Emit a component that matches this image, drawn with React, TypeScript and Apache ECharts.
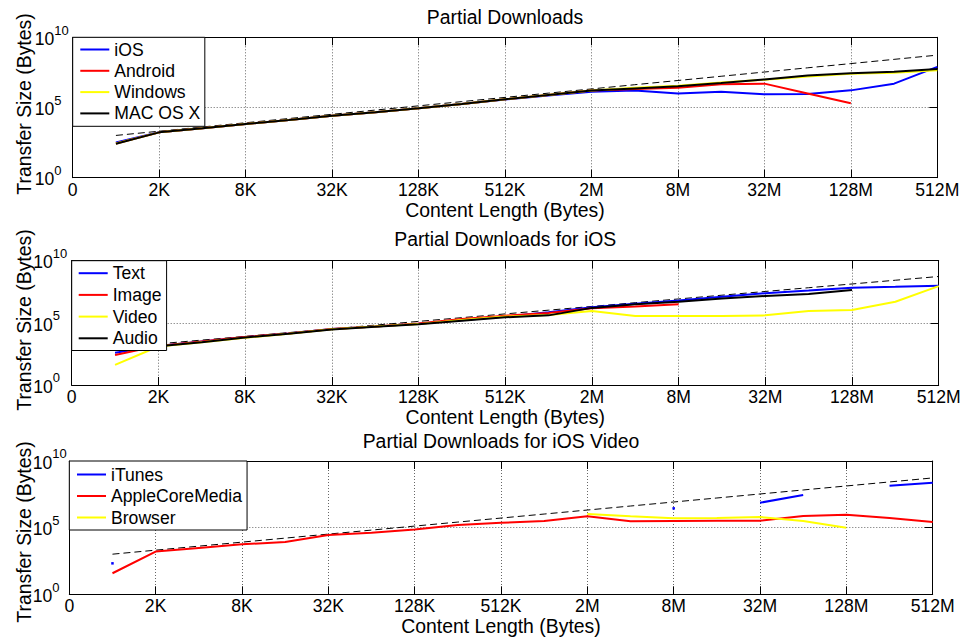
import React, { useEffect, useRef } from "react";
import * as echarts from "echarts";

// ---------- data ----------
const xTickLabels = ["0", "2K", "8K", "32K", "128K", "512K", "2M", "8M", "32M", "128M", "512M"];
// position of each content length on the x axis (tick "0" = position 0, 1K = 1, 2K = 2, ...)
const sizeIndex = [1, 2, 3, 4, 5, 6, 7, 8, 9, 10, 11, 12, 13, 14, 15, 16, 17, 18, 19, 20];
// content length in bytes (1K ... 512M), used for the dashed y = x reference line
const contentBytes = [
  1024, 2048, 4096, 8192, 16384, 32768, 65536, 131072, 262144, 524288, 1048576, 2097152,
  4194304, 8388608, 16777216, 33554432, 67108864, 134217728, 268435456, 536870912,
];

// Plot 1: Partial Downloads (transfer size, bytes)
const osIOS = [3.2e2, 1.7e3, 3.3e3, 6.6e3, 1.3e4, 2.6e4, 4.6e4, 8.7e4, 1.8e5, 3.7e5, 7.1e5, 1.35e6, 1.6e6, 1.0e6, 1.35e6, 8.7e5, 9.1e5, 1.66e6, 5.0e6, 7.9e7];
const osAndroid = [2.7e2, 1.7e3, 3.3e3, 6.6e3, 1.3e4, 2.6e4, 4.6e4, 8.7e4, 1.8e5, 3.8e5, 7.8e5, 1.6e6, 2.1e6, 2.6e6, 4.5e6, 5.0e6, 1.0e6, 2.0e5, null, null];
const osWindows = [2.7e2, 1.7e3, 3.3e3, 6.6e3, 1.3e4, 2.6e4, 4.6e4, 8.7e4, 1.8e5, 3.8e5, 7.9e5, 1.65e6, 2.5e6, 3.5e6, 6.0e6, 9.5e6, 1.6e7, 2.5e7, 3.0e7, 4.5e7];
const osMac = [2.6e2, 1.7e3, 3.3e3, 6.6e3, 1.3e4, 2.6e4, 4.6e4, 8.7e4, 1.8e5, 3.8e5, 7.8e5, 1.6e6, 2.3e6, 3.2e6, 5.6e6, 1.0e7, 1.9e7, 2.75e7, 3.5e7, 5.5e7];

// Plot 2: Partial Downloads for iOS
const iosText = [4.0e2, 1.4e3, 3.2e3, 6.9e3, 1.4e4, 3.2e4, 5.0e4, 8.3e4, 1.6e5, 3.3e5, 7.1e5, 1.8e6, 3.5e6, 6.3e6, 1.26e7, 2.4e7, 4.0e7, 6.8e7, 8.1e7, 9.8e7];
const iosImage = [2.6e2, 1.4e3, 3.2e3, 7.2e3, 1.4e4, 3.2e4, 5.2e4, 8.9e4, 2.0e5, 3.8e5, 6.3e5, 1.5e6, 2.1e6, 3.1e6, null, null, null, null, null, null];
const iosVideo = [4.1e1, 1.26e3, 2.8e3, 6.3e3, 1.3e4, 3.0e4, 5.0e4, 7.9e4, 1.66e5, 3.2e5, 4.3e5, 8.9e5, 3.5e5, 3.5e5, 3.5e5, 4.0e5, 8.9e5, 1.07e6, 5.0e6, 9.1e7];
const iosAudio = [null, 1.3e3, 2.8e3, 6.6e3, 1.3e4, 2.9e4, 4.8e4, 7.6e4, 1.5e5, 2.8e5, 4.0e5, 1.6e6, 3.2e6, 5.0e6, 8.9e6, 1.45e7, 2.1e7, 4.4e7, null, null];

// Plot 3: Partial Downloads for iOS Video
const vidITunes = [2.1e2, null, null, null, null, null, null, null, null, null, null, null, null, 2.8e6, null, 7.4e6, 2.8e7, null, 1.4e8, 2.3e8];
const vidCoreMedia = [3.8e1, 1.6e3, 3.0e3, 5.6e3, 8.3e3, 2.8e4, 4.2e4, 7.4e4, 1.6e5, 2.3e5, 3.2e5, 7.1e5, 3.0e5, 3.2e5, 3.3e5, 3.3e5, 7.4e5, 9.3e5, 5.2e5, 2.6e5];
const vidBrowser = [null, null, null, null, null, null, null, null, null, null, null, 1.05e6, 7.1e5, 5.0e5, 5.2e5, 6.3e5, 3.2e5, 1.0e5, null, null];

const titles = ["Partial Downloads", "Partial Downloads for iOS", "Partial Downloads for iOS Video"];
const xName = "Content Length (Bytes)";
const yName = "Transfer Size (Bytes)";

// ---------- layout ----------
const FONT = "'Liberation Sans', Arial, Helvetica, sans-serif";
const grids = [
  { left: 72.7, top: 37.3, width: 864.6, height: 140.4 },
  { left: 71.7, top: 260.7, width: 867, height: 124.3 },
  { left: 69.3, top: 461, width: 863.4, height: 133.3 },
];
const yLabelMargin = [38, 38.5, 36.5];
const titleY = [17, 239, 441];
const xNameY = [210, 416.5, 626];
const yNameY = [104, 320, 532];

const BLUE = "#0000ff";
const RED = "#ff0000";
const YELLOW = "#ffff00";
const BLACK = "#000000";

function xAxes(gi: number) {
  const common = {
    type: "value",
    gridIndex: gi,
    min: 0,
    max: 20,
    interval: 2,
    axisLine: { show: true, onZero: false, lineStyle: { color: "#000", width: 1 } },
    axisTick: { show: true, inside: true, length: 8, lineStyle: { color: "#000", width: 1 } },
  };
  return [
    {
      ...common,
      position: "bottom",
      axisLabel: {
        show: true,
        margin: 3,
        color: "#000",
        fontSize: 17.6,
        fontFamily: FONT,
        formatter: (v: number) => xTickLabels[Math.round(v / 2)] ?? "",
      },
      splitLine: { show: true, lineStyle: { color: "#666", width: 1, type: [1, 2] } },
    },
    {
      ...common,
      position: "top",
      axisLabel: { show: false },
      splitLine: { show: false },
    },
  ];
}

function yAxes(gi: number) {
  const common = {
    type: "log",
    logBase: 100000,
    gridIndex: gi,
    min: 1,
    max: 1e10,
    axisLine: { show: true, onZero: false, lineStyle: { color: "#000", width: 1 } },
    axisTick: { show: true, inside: true, length: 8, lineStyle: { color: "#000", width: 1 } },
    minorTick: { show: false },
  };
  return [
    {
      ...common,
      position: "left",
      axisLabel: {
        show: true,
        align: "left",
        margin: yLabelMargin[gi],
        padding: [0, 0, 3, 0],
        formatter: (v: number) => `{b|10}{s|${Math.round(Math.log10(v))}}`,
        rich: {
          b: { fontSize: 17.6, fontFamily: FONT, color: "#000", verticalAlign: "bottom" },
          s: { fontSize: 13, fontFamily: FONT, color: "#000", verticalAlign: "bottom", padding: [0, 0, 11.5, 0] },
        },
      },
      splitLine: { show: true, lineStyle: { color: "#666", width: 1, type: [1, 2] } },
    },
    {
      ...common,
      position: "right",
      axisLabel: { show: false },
      splitLine: { show: false },
    },
  ];
}

function lineSeries(name: string, values: (number | null)[], color: string, gi: number) {
  const data = sizeIndex.map((x, i) => {
    const v = values[i];
    if (v == null) return [x, "-"];
    const prev = i > 0 ? values[i - 1] : null;
    const next = i < values.length - 1 ? values[i + 1] : null;
    if (prev == null && next == null) {
      return { value: [x, v], symbol: "rect", symbolSize: 2.5, itemStyle: { color } };
    }
    return [x, v];
  });
  return {
    type: "line",
    name,
    xAxisIndex: gi * 2,
    yAxisIndex: gi * 2,
    data,
    symbol: "none",
    showSymbol: true,
    color,
    itemStyle: { color },
    lineStyle: { color, width: 2 },
    silent: true,
    z: 3,
  };
}

function refSeries(gi: number) {
  return {
    type: "line",
    name: `ref${gi}`,
    xAxisIndex: gi * 2,
    yAxisIndex: gi * 2,
    data: sizeIndex.map((x, i) => [x, contentBytes[i]]),
    symbol: "none",
    color: BLACK,
    lineStyle: { color: BLACK, width: 1, type: [7, 4] },
    silent: true,
    z: 2,
  };
}

function legend(gi: number, names: string[], padding: number[], itemGap: number) {
  return {
    orient: "vertical",
    left: grids[gi].left,
    top: grids[gi].top,
    data: names,
    itemWidth: 29,
    itemHeight: 17,
    itemGap,
    padding,
    borderColor: "#000",
    borderWidth: 1,
    borderRadius: 0,
    backgroundColor: "#fff",
    selectedMode: false,
    itemStyle: { opacity: 0, borderWidth: 0 },
    lineStyle: { width: 2 },
    textStyle: { fontSize: 17.6, fontFamily: FONT, color: "#000", lineHeight: 17 },
    z: 10,
  };
}

function textEl(text: string, x: number, y: number, rotation = 0) {
  return {
    type: "text",
    x,
    y,
    rotation,
    z: 20,
    style: {
      text,
      fontSize: 19.4,
      fontFamily: FONT,
      fill: "#000",
      textAlign: "center",
      textVerticalAlign: "middle",
      align: "center",
      verticalAlign: "middle",
    },
  };
}

export default function App() {
  const ref = useRef<HTMLDivElement>(null);
  useEffect(() => {
    if (!ref.current) return;
    const chart = echarts.init(ref.current, undefined, { renderer: "svg" });
    const graphics: any[] = [];
    grids.forEach((g, gi) => {
      const cx = g.left + g.width / 2;
      graphics.push(textEl(titles[gi], cx, titleY[gi]));
      graphics.push(textEl(xName, cx, xNameY[gi]));
      graphics.push(textEl(yName, 24, yNameY[gi], Math.PI / 2));
    });
    const option: any = {
      animation: false,
      backgroundColor: "#fff",
      grid: grids.map((g) => ({ ...g, containLabel: false })),
      xAxis: [...xAxes(0), ...xAxes(1), ...xAxes(2)],
      yAxis: [...yAxes(0), ...yAxes(1), ...yAxes(2)],
      legend: [
        legend(0, ["iOS", "Android", "Windows", "MAC OS X"], [3.2, 4.5, 3.9, 6.6], 3.3),
        legend(1, ["Text", "Image", "Video", "Audio"], [3.5, 5, 3.2, 6], 3.7),
        legend(2, ["iTunes", "AppleCoreMedia", "Browser"], [4.5, 5, 3.5, 6.7], 3.5),
      ],
      series: [
        refSeries(0),
        lineSeries("iOS", osIOS, BLUE, 0),
        lineSeries("Android", osAndroid, RED, 0),
        lineSeries("Windows", osWindows, YELLOW, 0),
        lineSeries("MAC OS X", osMac, BLACK, 0),
        refSeries(1),
        lineSeries("Text", iosText, BLUE, 1),
        lineSeries("Image", iosImage, RED, 1),
        lineSeries("Video", iosVideo, YELLOW, 1),
        lineSeries("Audio", iosAudio, BLACK, 1),
        refSeries(2),
        lineSeries("iTunes", vidITunes, BLUE, 2),
        lineSeries("AppleCoreMedia", vidCoreMedia, RED, 2),
        lineSeries("Browser", vidBrowser, YELLOW, 2),
      ],
      graphic: graphics,
    };
    chart.setOption(option);
    return () => chart.dispose();
  }, []);
  return (
    <div
      ref={ref}
      style={{ position: "absolute", left: 0, top: 0, width: 965, height: 640 }}
    />
  );
}
